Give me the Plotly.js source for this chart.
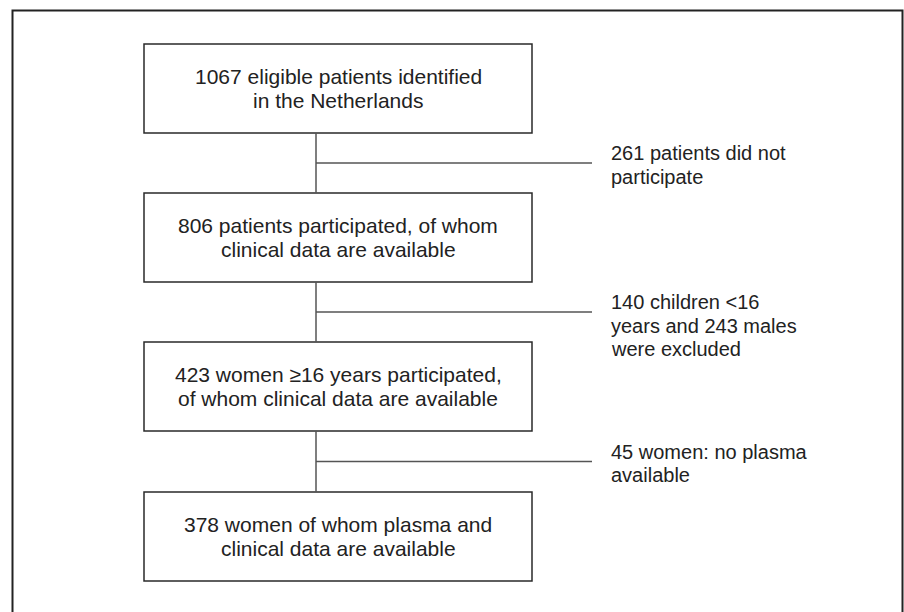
<!DOCTYPE html>
<html>
<head>
<meta charset="utf-8">
<script src="https://cdn.plot.ly/plotly-3.0.1.min.js"></script>
<style>
  html, body { margin: 0; padding: 0; background: #ffffff; }
  #chart { width: 904px; height: 612px; }
</style>
</head>
<body>
<div id="chart"></div>
<script>
// ---- data ----
const stepCounts = [1067, 806, 423, 378];
const stepTexts = [
  "1067 eligible patients identified<br>in the Netherlands",
  "806 patients participated, of whom<br>clinical data are available",
  "423 women \u226516 years participated,<br>of whom clinical data are available",
  "378 women of whom plasma and<br>clinical data are available"
];
const excludedCounts = [261, 383, 45];
const excludedTexts = [
  "261 patients did not<br>participate",
  "140 children &lt;16<br>years and 243 males<br>were excluded",
  "45 women: no plasma<br>available"
];

// ---- layout geometry (pixels, y downwards) ----
const W = 904, H = 612;
const boxX0 = 144, boxX1 = 532;
const boxTops = [44, 193, 342, 492];
const boxH = 89;
const trunkX = 316;
const branchEnd = 592;
const sideX = 609;
const family = "Liberation Sans, Arial, Helvetica, sans-serif";
const boxFont = { family: family, size: 21, color: "#222222" };
const sideFont = { family: family, size: 20, color: "#222222" };
const boxLineGap = 24.5;
const sideLineGap = 23.5;

const shapes = [];
const annotations = [];

// outer frame (open at bottom)
shapes.push({ type: "path", xref: "x", yref: "y",
  path: `M 12.5 ${H + 5} L 12.5 10.5 L 902.5 10.5 L 902.5 ${H + 5}`,
  line: { color: "#222222", width: 2 } });

stepCounts.forEach((c, i) => {
  const y0 = boxTops[i], y1 = boxTops[i] + boxH;
  shapes.push({ type: "rect", xref: "x", yref: "y", x0: boxX0, x1: boxX1, y0: y0, y1: y1,
    line: { color: "#2a2a2a", width: 1.5 }, fillcolor: "rgba(0,0,0,0)" });
  const lines = stepTexts[i].split("<br>");
  const yc = (y0 + y1) / 2;
  lines.forEach((ln, k) => {
    annotations.push({ x: (boxX0 + boxX1) / 2, y: yc + (k - (lines.length - 1) / 2) * boxLineGap,
      xref: "x", yref: "y", text: ln, showarrow: false, font: boxFont,
      xanchor: "center", yanchor: "middle" });
  });
});

excludedCounts.forEach((c, i) => {
  const yTop = boxTops[i] + boxH, yBot = boxTops[i + 1];
  const yMid = (yTop + yBot) / 2;
  shapes.push({ type: "line", xref: "x", yref: "y", x0: trunkX, x1: trunkX, y0: yTop, y1: yBot,
    line: { color: "#555555", width: 1.5 } });
  shapes.push({ type: "line", xref: "x", yref: "y", x0: trunkX, x1: branchEnd, y0: yMid, y1: yMid,
    line: { color: "#555555", width: 1.5 } });
  const lines = excludedTexts[i].split("<br>");
  lines.forEach((ln, k) => {
    annotations.push({ x: sideX, y: yMid - 10 + k * sideLineGap, xref: "x", yref: "y",
      text: ln, showarrow: false, font: sideFont, xanchor: "left", yanchor: "middle" });
  });
});

const layout = {
  width: W, height: H,
  margin: { l: 0, r: 0, t: 0, b: 0, pad: 0 },
  paper_bgcolor: "#ffffff", plot_bgcolor: "#ffffff",
  xaxis: { range: [0, W], visible: false, fixedrange: true },
  yaxis: { range: [H, 0], visible: false, fixedrange: true },
  showlegend: false,
  shapes: shapes,
  annotations: annotations
};

Plotly.newPlot("chart", [{ x: [], y: [], type: "scatter", mode: "markers", hoverinfo: "skip" }], layout,
  { staticPlot: true, displayModeBar: false });
</script>
</body>
</html>
